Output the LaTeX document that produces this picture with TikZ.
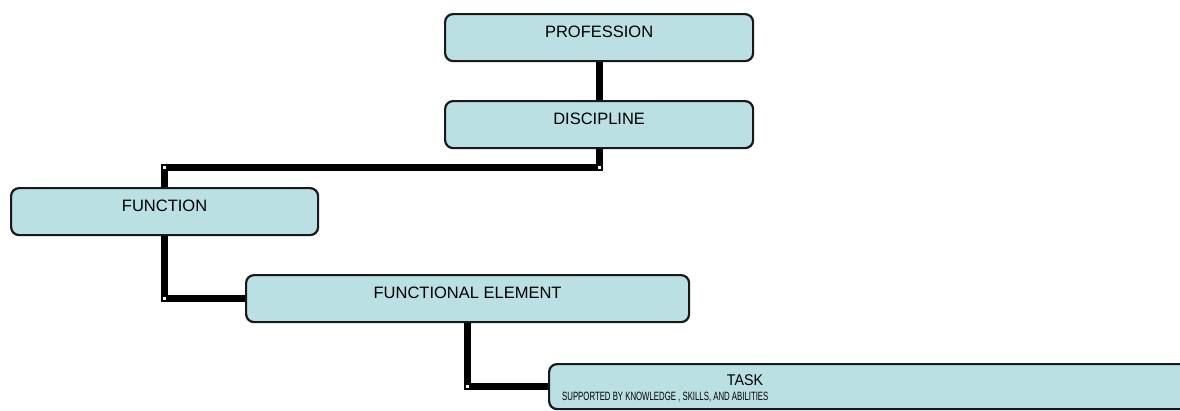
\documentclass[tikz,border=0pt]{standalone}
\usepackage{fontspec}
\setmainfont{Liberation Sans}
\usetikzlibrary{positioning}
\definecolor{boxfill}{RGB}{186,224,228}
\tikzset{
  stage/.style={draw=black!90, line width=2.2pt, fill=boxfill, rounded corners=8pt,
    inner sep=0pt, anchor=north west, text height=23.5pt, text depth=23.5pt,
    font=\fontsize{16.5}{18}\selectfont},
  link/.style={line width=7pt},
  joint/.style={fill=white, inner sep=0pt, minimum size=3pt}
}
\begin{document}
\begin{tikzpicture}[x=1pt,y=-1pt]
	\useasboundingbox (0,0) rectangle (1180,410);
	\clip (0,0) rectangle (1180,410);
	% boxes
	\node[stage, minimum width=308pt] (prof) at (444,13) {PROFESSION};
	\node[stage, minimum width=308pt] (disc) at (444,100) {DISCIPLINE};
	\node[stage, minimum width=307pt] (func) at (10,187) {FUNCTION};
	\node[stage, minimum width=443pt] (fe) at (245,274) {FUNCTIONAL ELEMENT};
	\node[stage, minimum width=700pt, text height=22.5pt, text depth=22.5pt] (task) at (548,363) {};
	\node[font=\fontsize{15.5}{17}\selectfont, inner sep=0pt] (tasktitle) at (745,380) {\scalebox{0.92}[1]{TASK}};
	\node[font=\fontsize{12}{13}\selectfont, inner sep=0pt, anchor=west] (tasknote) at (562,397)
		{\scalebox{0.65}[1]{SUPPORTED BY KNOWLEDGE , SKILLS, AND ABILITIES}};
	% bends
	\path (disc.south) ++(0,18.5) coordinate (bendA);
	\coordinate (bendB) at (bendA -| func.north);
	\coordinate (bendC) at (func.south |- fe.west);
	\coordinate (bendD) at (fe.south |- task.west);
	% links
	\draw[link] (prof) -- (disc);
	\draw[link] (disc.south) -- (bendA) -- (bendB) -- (func.north);
	\draw[link] (func.south) -- (bendC) -- (fe.west);
	\draw[link] (fe.south) -- (bendD) -- (task.west);
	\node[joint] (jA) at (bendA) {};
	\node[joint] (jB) at (bendB) {};
	\node[joint] (jC) at (bendC) {};
	\node[joint] (jD) at (bendD) {};
\end{tikzpicture}
\end{document}
